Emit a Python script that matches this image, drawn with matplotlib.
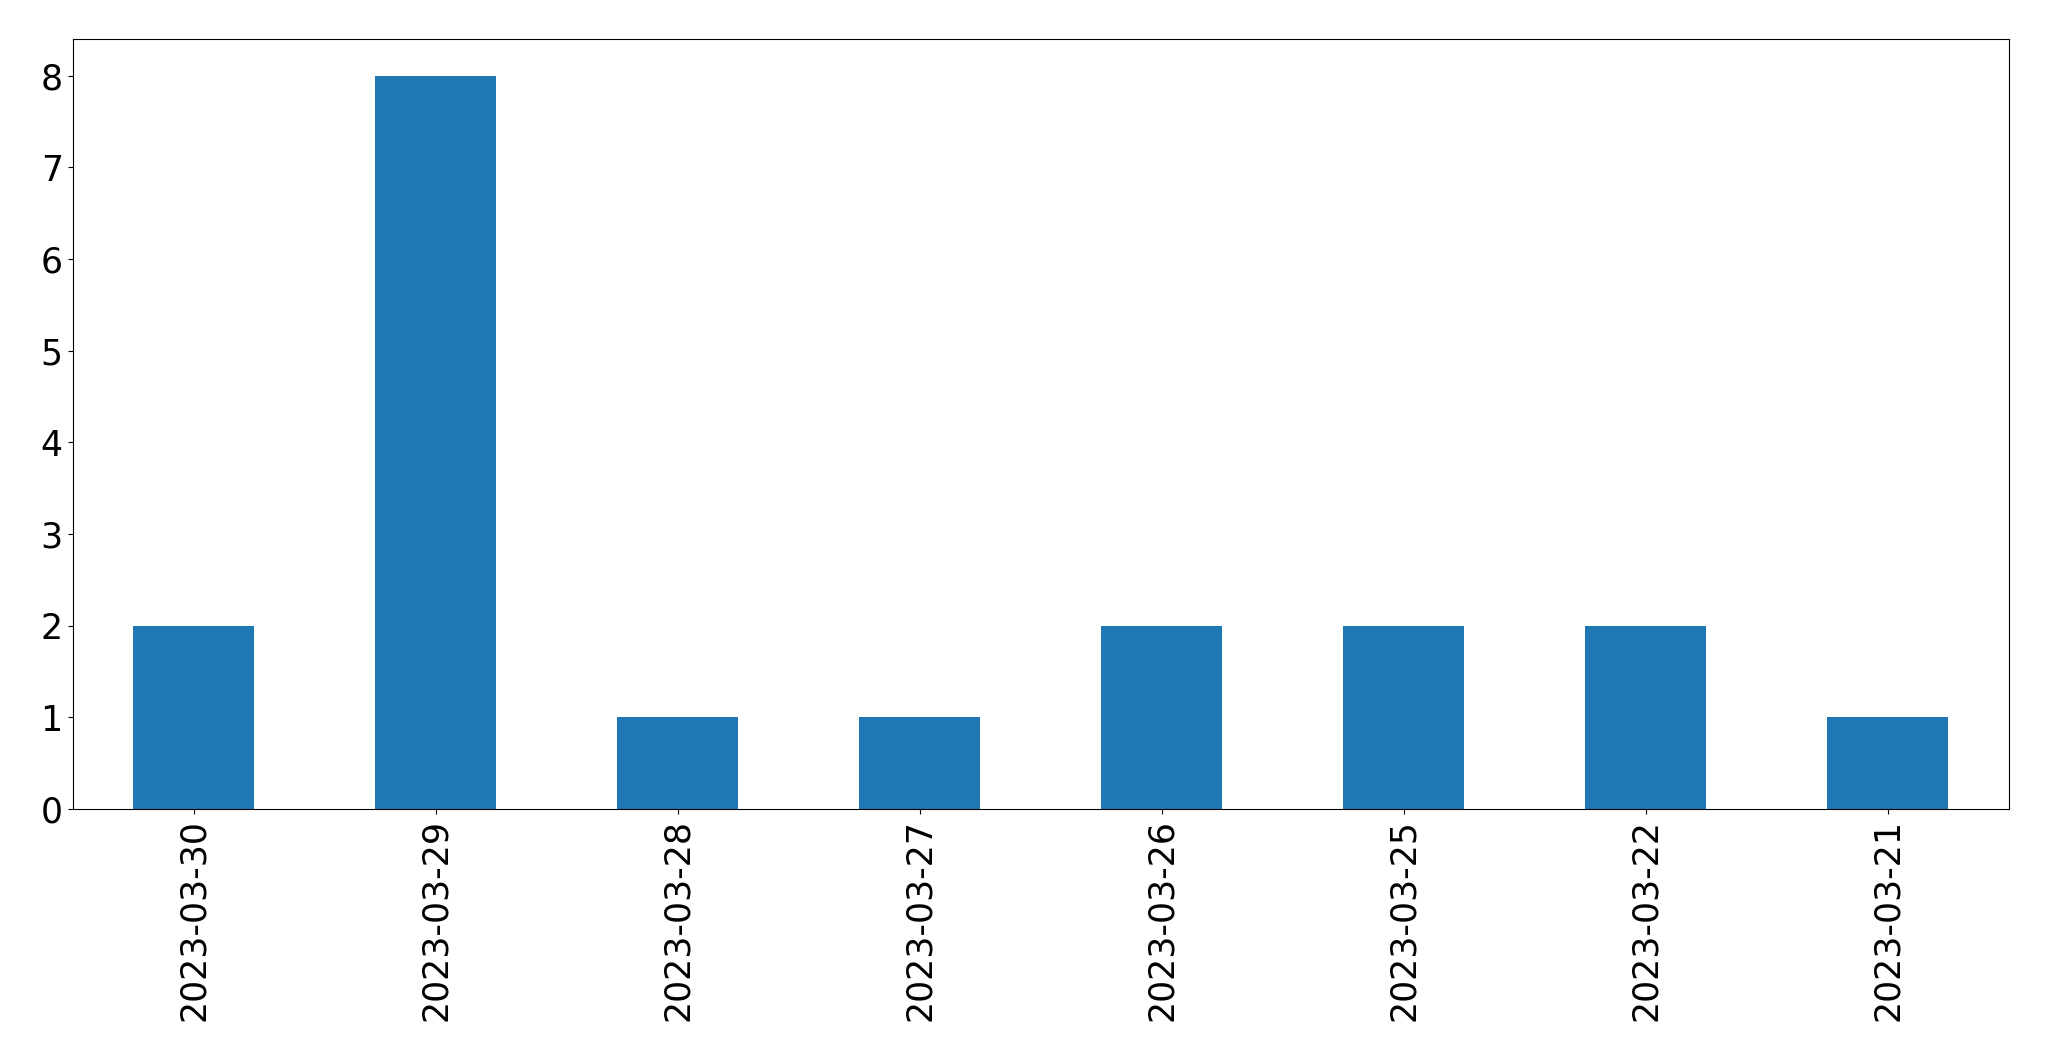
import matplotlib
matplotlib.use('Agg')
from matplotlib import pyplot as plt
import pandas as pd

# counts per day, newest first
dates = ["2023-03-30", "2023-03-29", "2023-03-28", "2023-03-27",
         "2023-03-26", "2023-03-25", "2023-03-22", "2023-03-21"]
counts = [2, 8, 1, 1, 2, 2, 2, 1]

s = pd.Series(counts, index=dates)

fig = plt.figure(figsize=(20.49, 10.61), dpi=100)
ax = fig.add_axes([72.5 / 2049, 1 - 809 / 1061, (2009 - 72.5) / 2049, (809 - 39) / 1061])
s.plot(kind='bar', ax=ax, color='#1f77b4')
ax.tick_params(axis='both', labelsize=25)
fig.savefig('out.png', dpi=100)
